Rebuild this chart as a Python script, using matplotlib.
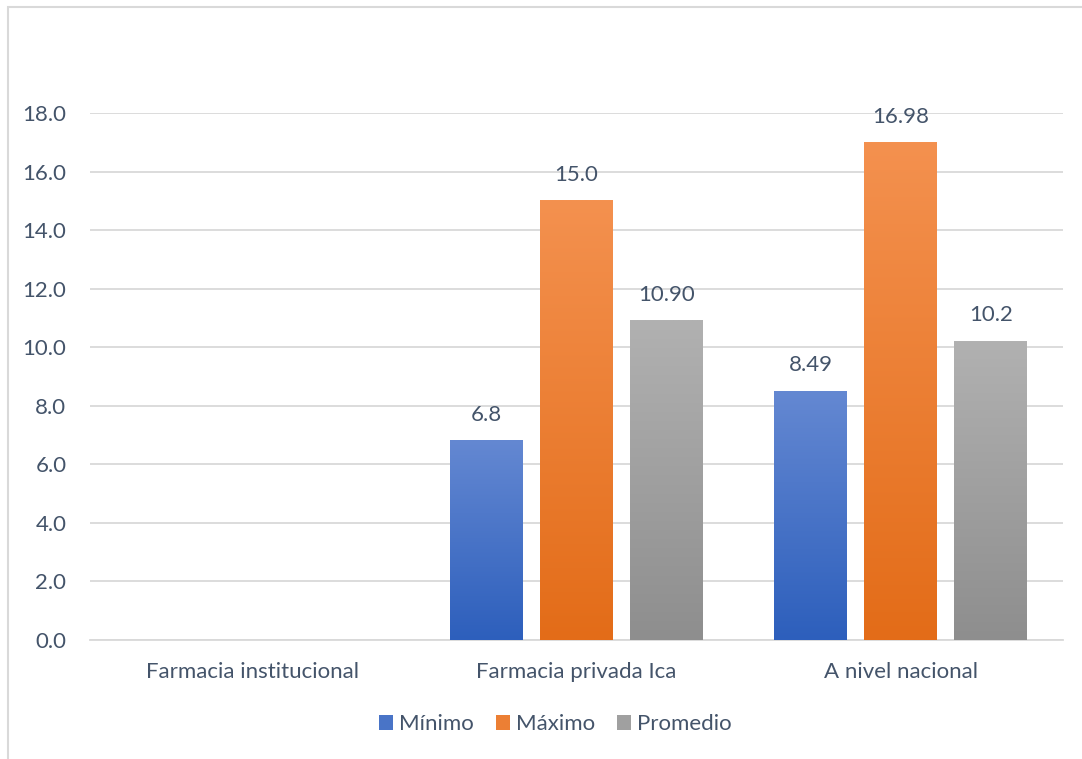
import numpy as np
import matplotlib
matplotlib.use("Agg")
import matplotlib.pyplot as plt
from matplotlib.patches import Rectangle
from matplotlib.colors import LinearSegmentedColormap

categories = ["Farmacia institucional", "Farmacia privada Ica", "A nivel nacional"]
series_names = ["Mínimo", "Máximo", "Promedio"]
minimo = [np.nan, 6.8, 8.49]
maximo = [np.nan, 15.0, 16.98]
promedio = [np.nan, 10.90, 10.2]
labels_min = ["", "6.8", "8.49"]
labels_max = ["", "15.0", "16.98"]
labels_prom = ["", "10.90", "10.2"]
yticks = [0, 2, 4, 6, 8, 10, 12, 14, 16, 18]

plt.rcParams['font.family'] = ['Lato', 'DejaVu Sans']
txt = "#44546A"
fs = 16
W, H = 1082, 759
fig = plt.figure(figsize=(W/100, H/100), dpi=100)
fig.patch.set_facecolor("white")
# outer border (left & top visible)
fig.patches.append(Rectangle((8/W, -0.05), 1.2, 1 - 7/H + 0.05, transform=fig.transFigure,
                             fill=False, edgecolor="#D9D9D9", linewidth=1.5))

ax = fig.add_axes([90/W, (H-640)/H, (1063-90)/W, (640-113)/H])

grads = [("#6488D2", "#2D5FBC"), ("#F4914F", "#E36C18"), ("#B1B1B1", "#8E8E8E")]
series = [minimo, maximo, promedio]
labs = [labels_min, labels_max, labels_prom]
width = 0.225
step = 0.2775
x = np.arange(len(categories))
for i, (vals, (top, bot), lb) in enumerate(zip(series, grads, labs)):
    cmap = LinearSegmentedColormap.from_list("g%d" % i, [bot, top])
    xs = x + (i - 1) * step
    bars = ax.bar(xs, vals, width, color="none", zorder=3)
    for b, v, s in zip(bars, vals, lb):
        if np.isnan(v):
            continue
        x0 = b.get_x()
        grad = np.linspace(0, 1, 256).reshape(-1, 1)
        ax.imshow(grad, cmap=cmap, origin="lower", aspect="auto",
                  extent=(x0, x0 + width, 0, v), zorder=3)
        ax.annotate(s, (x0 + width/2, v), xytext=(0, 26), textcoords="offset pixels",
                    ha="center", va="center", fontsize=fs, color=txt, annotation_clip=False)
    ax.bar([np.nan], [np.nan], width, color=cmap(0.5), label=series_names[i])

ax.set_xlim(-0.5, 2.5)
ax.set_ylim(0, 18)
ax.set_yticks(yticks)
ax.set_yticklabels(["%.1f" % t for t in yticks], fontsize=fs, color=txt)
ax.set_xticks(x)
ax.set_xticklabels(categories, fontsize=fs, color=txt)
ax.tick_params(axis="both", length=0)
ax.tick_params(axis="y", pad=17)
ax.tick_params(axis="x", pad=16)
ax.grid(axis="y", color="#D9D9D9", linewidth=1.3, zorder=0)
ax.set_axisbelow(True)
for sp in ["top", "right", "left"]:
    ax.spines[sp].set_visible(False)
ax.spines["bottom"].set_color("#D9D9D9")
ax.spines["bottom"].set_linewidth(1.3)

leg = fig.legend(loc="center", bbox_to_anchor=(555/W, 1 - 724/H), ncol=3, frameon=False,
                 fontsize=fs, handlelength=0.65, handleheight=0.65, handletextpad=0.25,
                 columnspacing=1.0)
for t in leg.get_texts():
    t.set_color(txt)

fig.savefig("out.png", dpi=100, facecolor="white")
